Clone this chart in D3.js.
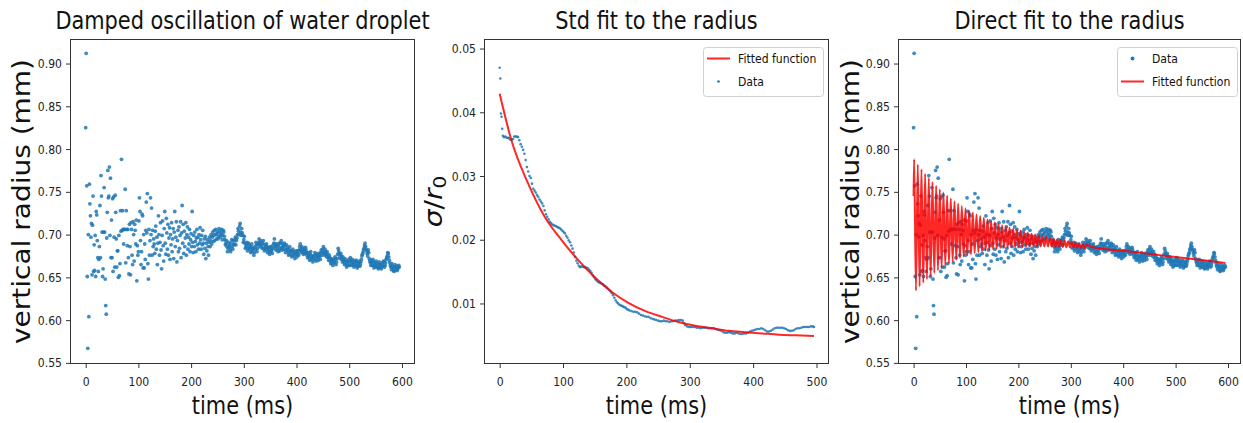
<!DOCTYPE html>
<html>
<head>
<meta charset="utf-8">
<script src="https://cdn.jsdelivr.net/npm/d3@7"></script>
<style>
body { margin: 0; background: #fff; }
text { font-family: "DejaVu Sans", sans-serif; }
</style>
</head>
<body>
<div id="chart"></div>
<script>
var width = 1243;
var height = 423;
var sx = 0.87; // the original figure is squeezed horizontally

// vertical radius of the droplet, [time ms, radius mm] (panels 1 and 3)
const radiusData = [
  [0,0.825],[1,0.912],[2,0.757],[3,0.651],[4,0.567],[5,0.700],[6,0.604],[7,0.759],[8,0.736],[9,0.722],
  [10,0.697],[11,0.713],[12,0.653],[13,0.711],[14,0.745],[15,0.657],[16,0.688],[17,0.658],[18,0.699],[19,0.651],
  [20,0.727],[21,0.723],[22,0.693],[23,0.673],[24,0.657],[25,0.671],[26,0.686],[27,0.734],[28,0.673],[29,0.769],
  [30,0.745],[31,0.703],[32,0.651],[33,0.660],[34,0.703],[35,0.755],[36,0.703],[37,0.648],[38,0.617],[39,0.607],
  [40,0.696],[41,0.726],[42,0.775],[43,0.743],[44,0.745],[45,0.779],[46,0.699],[47,0.766],[48,0.673],[49,0.717],
  [50,0.673],[51,0.742],[52,0.657],[53,0.744],[54,0.697],[55,0.662],[56,0.746],[57,0.726],[58,0.695],[59,0.662],
  [60,0.681],[61,0.681],[62,0.650],[63,0.699],[64,0.652],[65,0.666],[66,0.728],[67,0.704],[68,0.788],[69,0.705],
  [70,0.728],[71,0.706],[72,0.689],[73,0.706],[74,0.706],[75,0.753],[76,0.667],[77,0.728],[78,0.706],[79,0.687],
  [80,0.706],[81,0.673],[82,0.654],[83,0.712],[84,0.686],[85,0.653],[86,0.714],[87,0.706],[88,0.676],[89,0.665],
  [90,0.715],[91,0.700],[92,0.669],[93,0.712],[94,0.705],[95,0.689],[96,0.717],[97,0.646],[98,0.687],[99,0.676],
  [100,0.680],[101,0.716],[102,0.743],[103,0.727],[104,0.693],[105,0.665],[106,0.680],[107,0.724],[108,0.722],[109,0.661],
  [110,0.700],[111,0.661],[112,0.689],[113,0.671],[114,0.705],[115,0.738],[116,0.702],[117,0.748],[118,0.666],[119,0.648],
  [120,0.706],[121,0.676],[122,0.693],[123,0.743],[124,0.700],[125,0.731],[126,0.676],[127,0.705],[128,0.686],[129,0.695],
  [130,0.689],[131,0.678],[132,0.704],[133,0.710],[134,0.683],[135,0.697],[136,0.665],[137,0.690],[138,0.722],[139,0.700],
  [140,0.676],[141,0.691],[142,0.714],[143,0.682],[144,0.660],[145,0.699],[146,0.716],[147,0.687],[148,0.669],[149,0.707],
  [150,0.727],[151,0.690],[152,0.677],[153,0.719],[154,0.702],[155,0.683],[156,0.712],[157,0.676],[158,0.696],[159,0.708],
  [160,0.671],[161,0.700],[162,0.688],[163,0.714],[164,0.680],[165,0.695],[166,0.707],[167,0.672],[168,0.703],[169,0.727],
  [170,0.686],[171,0.697],[172,0.715],[173,0.668],[174,0.693],[175,0.705],[176,0.680],[177,0.709],[178,0.684],[179,0.699],
  [180,0.715],[181,0.673],[182,0.702],[183,0.734],[184,0.690],[185,0.712],[186,0.678],[187,0.704],[188,0.686],[189,0.696],
  [190,0.714],[191,0.676],[192,0.700],[193,0.709],[194,0.683],[195,0.697],[196,0.689],[197,0.706],[198,0.680],[199,0.694],
  [200,0.701],[201,0.686],[202,0.727],[203,0.691],[204,0.679],[205,0.699],[206,0.686],[207,0.703],[208,0.692],[209,0.680],
  [210,0.696],[211,0.706],[212,0.688],[213,0.697],[214,0.683],[215,0.700],[216,0.690],[217,0.708],[218,0.694],[219,0.683],
  [220,0.699],[221,0.688],[222,0.705],[223,0.690],[224,0.677],[225,0.695],[226,0.684],[227,0.698],[228,0.672],[229,0.690],
  [230,0.681],[231,0.694],[232,0.686],[233,0.676],[234,0.691],[235,0.697],[236,0.686],[237,0.693],[238,0.700],[239,0.689],
  [240,0.697],[241,0.703],[242,0.692],[243,0.699],[244,0.705],[245,0.693],[246,0.700],[247,0.706],[248,0.695],[249,0.701],
  [250,0.703],[252,0.698],[254,0.704],[256,0.700],[258,0.706],[260,0.699],[262,0.703],[264,0.694],[266,0.690],[268,0.686],
  [270,0.684],[272,0.688],[274,0.683],[276,0.690],[278,0.686],[280,0.693],[282,0.689],[284,0.697],[286,0.693],[288,0.700],
  [290,0.704],[292,0.710],[294,0.703],[296,0.707],[298,0.699],[300,0.694],[302,0.690],[304,0.686],[306,0.691],[308,0.684],
  [310,0.688],[312,0.682],[314,0.686],[316,0.680],[318,0.684],[320,0.679],[322,0.683],[324,0.688],[326,0.684],[328,0.691],
  [330,0.689],[332,0.693],[334,0.687],[336,0.690],[338,0.684],[340,0.688],[342,0.683],[344,0.686],[346,0.681],[348,0.685],
  [350,0.680],[352,0.683],[354,0.678],[356,0.684],[358,0.695],[360,0.686],[362,0.689],[364,0.683],[366,0.687],[368,0.681],
  [370,0.690],[372,0.685],[374,0.689],[376,0.683],[378,0.687],[380,0.682],[382,0.685],[384,0.679],[386,0.683],[388,0.677],
  [390,0.681],[392,0.676],[394,0.680],[396,0.675],[398,0.679],[400,0.677],[402,0.681],[404,0.676],[406,0.686],[408,0.682],
  [410,0.686],[412,0.680],[414,0.684],[416,0.678],[418,0.682],[420,0.676],[422,0.679],[424,0.673],[426,0.677],[428,0.671],
  [430,0.675],[432,0.671],[434,0.676],[436,0.672],[438,0.677],[440,0.673],[442,0.678],[444,0.674],[446,0.679],[448,0.676],
  [450,0.683],[452,0.679],[454,0.683],[456,0.677],[458,0.680],[460,0.673],[462,0.676],[464,0.669],[466,0.672],[468,0.667],
  [470,0.671],[472,0.667],[474,0.672],[476,0.668],[478,0.677],[480,0.681],[482,0.675],[484,0.678],[486,0.671],[488,0.674],
  [490,0.668],[492,0.672],[494,0.665],[496,0.669],[498,0.664],[500,0.668],[502,0.673],[504,0.667],[506,0.671],[508,0.665],
  [510,0.669],[512,0.664],[514,0.668],[516,0.663],[518,0.667],[520,0.663],[522,0.668],[524,0.675],[526,0.679],[528,0.684],
  [530,0.690],[532,0.683],[534,0.678],[536,0.682],[538,0.672],[540,0.667],[542,0.670],[544,0.664],[546,0.668],[548,0.663],
  [550,0.667],[552,0.662],[554,0.666],[556,0.661],[558,0.665],[560,0.662],[562,0.667],[564,0.663],[566,0.668],[568,0.664],
  [570,0.671],[572,0.675],[574,0.678],[576,0.670],[578,0.664],[580,0.659],[582,0.663],[584,0.658],[586,0.662],[588,0.659],
  [590,0.663],[592,0.660],[594,0.664],[595,0.662],
  [251,0.695],[253,0.707],[255,0.697],[257,0.702],[259,0.694],[261,0.705],[263,0.698],[265,0.688],[267,0.693],[269,0.680],
  [271,0.691],[273,0.686],[275,0.680],[277,0.694],[279,0.683],[281,0.688],[283,0.694],[285,0.688],[287,0.696],[289,0.707],
  [291,0.700],[293,0.713],[295,0.699],[297,0.702],[299,0.691],[301,0.698],[303,0.684],[305,0.688],[307,0.681],[309,0.690],
  [311,0.685],[313,0.679],[315,0.689],[317,0.683],[319,0.676],[321,0.686],[323,0.691],[325,0.680],[327,0.688],[329,0.695],
  [331,0.686],[333,0.690],[335,0.684],[337,0.693],[339,0.681],[341,0.685],[343,0.689],[345,0.679],[347,0.684],[349,0.677],
  [351,0.686],[353,0.681],[355,0.687],[357,0.690],[359,0.689],[361,0.682],[363,0.686],[365,0.680],[367,0.690],[369,0.684],
  [371,0.693],[373,0.682],[375,0.686],[377,0.690],[379,0.679],[381,0.688],[383,0.682],[385,0.676],[387,0.686],[389,0.680],
  [391,0.674],[393,0.683],[395,0.678],[397,0.672],[399,0.681],[401,0.674],[403,0.678],[405,0.682],[407,0.689],[409,0.679],
  [411,0.683],[413,0.677],[415,0.681],[417,0.685],[419,0.679],[421,0.673],[423,0.676],[425,0.670],[427,0.680],[429,0.674],
  [431,0.668],[433,0.674],[435,0.679],[437,0.669],[439,0.675],[441,0.670],[443,0.676],[445,0.671],[447,0.682],[449,0.679],
  [451,0.686],[453,0.676],[455,0.680],[457,0.674],[459,0.677],[461,0.670],[463,0.673],[465,0.666],[467,0.670],[469,0.664],
  [471,0.669],[473,0.674],[475,0.665],[477,0.672],[479,0.684],[481,0.678],[483,0.672],[485,0.675],[487,0.668],[489,0.671],
  [491,0.665],[493,0.669],[495,0.662],[497,0.667],[499,0.671],[501,0.664],[503,0.670],[505,0.664],[507,0.668],[509,0.662],
  [511,0.666],[513,0.670],[515,0.661],[517,0.665],[519,0.669],[521,0.665],[523,0.671],[525,0.677],[527,0.682],[529,0.687],
  [531,0.686],[533,0.681],[535,0.675],[537,0.679],[539,0.669],[541,0.664],[543,0.667],[545,0.671],[547,0.661],[549,0.665],
  [551,0.669],[553,0.663],[555,0.660],[557,0.668],[559,0.664],[561,0.660],[563,0.665],[565,0.669],[567,0.662],[569,0.667],
  [571,0.673],[573,0.679],[575,0.674],[577,0.667],[579,0.662],[581,0.666],[583,0.661],[585,0.657],[587,0.665],[589,0.661],
  [591,0.658],[593,0.662]
];

// std / r0 of the radius, [time ms, value]
const stdData = [
  [0,0.0470],[1,0.0453],[2,0.0398],[3,0.0393],[4,0.0374],[5,0.0363],[7,0.0361],[9,0.0362],[11,0.0360],[13,0.0360],
  [15,0.0359],[17,0.0357],[19,0.0357],[21,0.0358],[23,0.0362],[25,0.0362],[27,0.0362],[29,0.0361],[31,0.0356],[33,0.0350],
  [35,0.0346],[37,0.0341],[39,0.0335],[41,0.0325],[43,0.0314],[45,0.0307],[47,0.0300],[49,0.0297],[51,0.0288],[53,0.0280],
  [55,0.0277],[57,0.0274],[59,0.0270],[61,0.0267],[63,0.0263],[65,0.0260],[67,0.0257],[69,0.0253],[71,0.0246],[73,0.0240],
  [75,0.0236],[77,0.0232],[79,0.0228],[81,0.0226],[83,0.0224],[85,0.0223],[87,0.0222],[89,0.0221],[91,0.0220],[93,0.0219],
  [95,0.0218],[97,0.0216],[99,0.0214],[101,0.0212],[103,0.0210],[105,0.0206],[107,0.0203],[109,0.0199],[111,0.0196],[113,0.0191],
  [115,0.0186],[117,0.0180],[119,0.0173],[121,0.0167],[123,0.0163],[125,0.0159],[127,0.0157],[129,0.0158],[131,0.0158],[133,0.0157],
  [135,0.0157],[137,0.0156],[139,0.0155],[141,0.0153],[143,0.0151],[145,0.0148],[147,0.0144],[149,0.0141],[151,0.0138],[153,0.0136],
  [155,0.0134],[157,0.0133],[159,0.0132],[161,0.0131],[163,0.0130],[165,0.0128],[167,0.0127],[169,0.0125],[171,0.0123],[173,0.0121],
  [175,0.0119],[177,0.0116],[179,0.0113],[181,0.0109],[183,0.0105],[185,0.0102],[187,0.0100],[189,0.0098],[191,0.0097],[193,0.0096],
  [195,0.0095],[197,0.0094],[199,0.0093],[201,0.0091],[203,0.0090],[205,0.0089],[208,0.0088],[211,0.0087],[214,0.0087],[217,0.0086],
  [220,0.0084],[223,0.0082],[226,0.0081],[229,0.0080],[232,0.0079],[235,0.0079],[238,0.0077],[241,0.0076],[244,0.0075],[247,0.0074],
  [250,0.0073],[253,0.0072],[256,0.0072],[259,0.0073],[262,0.0072],[265,0.0072],[268,0.0071],[271,0.0072],[274,0.0072],[277,0.0073],
  [280,0.0073],[283,0.0074],[286,0.0074],[289,0.0073],[291,0.0069],[293,0.0066],[296,0.0064],[299,0.0063],[302,0.0063],[305,0.0063],
  [308,0.0063],[311,0.0062],[314,0.0062],[317,0.0061],[320,0.0062],[323,0.0062],[326,0.0062],[329,0.0061],[332,0.0061],[335,0.0061],
  [338,0.0061],[341,0.0060],[344,0.0059],[347,0.0058],[350,0.0057],[353,0.0055],[356,0.0054],[359,0.0054],[362,0.0055],[365,0.0054],
  [368,0.0053],[371,0.0053],[374,0.0054],[377,0.0053],[380,0.0052],[383,0.0052],[386,0.0053],[389,0.0053],[392,0.0054],[395,0.0056],
  [398,0.0057],[401,0.0058],[404,0.0059],[407,0.0060],[410,0.0060],[413,0.0061],[416,0.0060],[419,0.0058],[422,0.0056],[425,0.0056],
  [428,0.0057],[431,0.0059],[434,0.0061],[437,0.0062],[440,0.0062],[443,0.0062],[446,0.0062],[449,0.0061],[452,0.0060],[455,0.0058],
  [458,0.0057],[461,0.0057],[464,0.0058],[467,0.0060],[470,0.0061],[473,0.0061],[476,0.0062],[479,0.0063],[482,0.0063],[485,0.0063],
  [488,0.0063],[491,0.0064],[494,0.0064],[496,0.0063]
];

// fitted curve of the std
const stdFit = [
  [0,0.0429],[18.5,0.0356],[45,0.0288],[71,0.0236],[98,0.0199],[124,0.0168],[150,0.0141],[177,0.0118],
  [203,0.0101],[230,0.0088],[256,0.0079],[282,0.0071],[309,0.0065],[335,0.0061],[362,0.0057],[388,0.0055],
  [414,0.0053],[441,0.0051],[467,0.0050],[496,0.0049]
];

// fitted damped oscillation, peaks and troughs
const directFit = [
  [0,0.745],[1,0.7881],[4.5,0.6344],[8,0.7820],[11.5,0.6392],[15,0.7764],[18.5,0.6437],[22,0.7711],[25.5,0.6478],
  [29,0.7661],[32.5,0.6515],[36,0.7615],[39.5,0.6550],[43,0.7571],[46.5,0.6582],[50,0.7531],[53.5,0.6611],
  [57,0.7493],[60.5,0.6638],[64,0.7457],[67.5,0.6663],[71,0.7423],[74.5,0.6685],[78,0.7391],[81.5,0.6706],
  [85,0.7361],[88.5,0.6725],[92,0.7333],[95.5,0.6742],[99,0.7307],[102.5,0.6757],[106,0.7282],[109.5,0.6771],
  [113,0.7258],[116.5,0.6784],[120,0.7236],[123.5,0.6795],[127,0.7216],[130.5,0.6805],[134,0.7196],[137.5,0.6814],
  [141,0.7177],[144.5,0.6822],[148,0.7159],[151.5,0.6830],[155,0.7143],[158.5,0.6836],[162,0.7127],[165.5,0.6842],
  [169,0.7110],[172.5,0.6846],[176,0.7096],[179.5,0.6851],[183,0.7082],[186.5,0.6854],[190,0.7069],[193.5,0.6857],
  [197,0.7056],[200.5,0.6859],[204,0.7044],[207.5,0.6861],[211,0.7033],[214.5,0.6861],[218,0.7022],[221.5,0.6862],
  [225,0.7011],[228.5,0.6863],[232,0.7001],[235.5,0.6863],[239,0.6991],[242.5,0.6862],[246,0.6981],[249.5,0.6862],
  [253,0.6972],[256.5,0.6861],[260,0.6963],[263.5,0.6860],[267,0.6954],[270.5,0.6858],[274,0.6945],[277.5,0.6856],
  [281,0.6937],[284.5,0.6854],[288,0.6929],[291.5,0.6852],[295,0.6921],[298.5,0.6850],[302,0.6913],[305.5,0.6848],
  [309,0.6905],[312.5,0.6846],[316,0.6897],[319.5,0.6844],[323,0.6889],[326.5,0.6842],[330,0.6881],[340,0.6854],
  [400,0.6810],[500,0.6738],[595,0.6669]
];

const radiusTicks = [0.55, 0.60, 0.65, 0.70, 0.75, 0.80, 0.85, 0.90];
const stdTicks = [0.01, 0.02, 0.03, 0.04, 0.05];
const timeTicks600 = [0, 100, 200, 300, 400, 500, 600];
const timeTicks500 = [0, 100, 200, 300, 400, 500];

const blue = "#1f77b4";
const axTop = 39, axBottom = 364;

let svg = d3.select("#chart")
  .append("svg")
  .attr("width", width)
  .attr("height", height);

function label(g, x, y, str, size, anchor) {
  return g.append("text")
    .attr("transform", `translate(${x},${y}) scale(${sx},1)`)
    .attr("text-anchor", anchor || "middle")
    .attr("font-size", size)
    .attr("fill", "#111")
    .text(str);
}

function panel(o) {
  const g = svg.append("g");
  const x = d3.scaleLinear().domain(o.xDomain).range([o.left, o.right]);
  const y = d3.scaleLinear().domain(o.yDomain).range([axBottom, axTop]);

  g.append("g")
    .attr("transform", `translate(0,${axBottom})`)
    .call(d3.axisBottom(x).tickValues(o.xTicks).tickSize(4).tickPadding(9).tickFormat(d3.format("d")))
    .call(a => a.select(".domain").remove())
    .call(a => a.selectAll("line").attr("stroke", "#333"))
    .call(a => a.selectAll("text").attr("transform", `scale(${sx},1)`)
      .attr("font-size", 12.5).attr("font-family", "DejaVu Sans").attr("fill", "#222"));

  g.append("g")
    .attr("transform", `translate(${o.left},0)`)
    .call(d3.axisLeft(y).tickValues(o.yTicks).tickSize(4).tickPadding(5.2).tickFormat(d3.format(".2f")))
    .call(a => a.select(".domain").remove())
    .call(a => a.selectAll("line").attr("stroke", "#333"))
    .call(a => a.selectAll("text").attr("transform", `scale(${sx},1)`)
      .attr("font-size", 12.5).attr("font-family", "DejaVu Sans").attr("fill", "#222"));

  label(g, (o.left + o.right) / 2, 29, o.title, 24);
  label(g, (o.left + o.right) / 2, 414, "time (ms)", 24);
  return { g, x, y, o };
}

function frame(p) {
  p.g.append("rect")
    .attr("x", p.o.left + 0.5).attr("y", axTop + 0.5)
    .attr("width", p.o.right - p.o.left - 1).attr("height", axBottom - axTop - 1)
    .attr("fill", "none").attr("stroke", "#333").attr("stroke-width", 1);
}

function yLabel(g, x, y, str) {
  return g.append("text")
    .attr("transform", `translate(${x},${y}) scale(${sx},1) rotate(-90)`)
    .attr("text-anchor", "middle")
    .attr("font-size", 28)
    .attr("fill", "#111")
    .text(str);
}

function dots(p, data, r) {
  p.g.append("g").selectAll("circle")
    .data(data)
    .enter().append("circle")
    .attr("cx", d => p.x(d[0]))
    .attr("cy", d => p.y(d[1]))
    .attr("r", r)
    .attr("fill", blue)
    .attr("fill-opacity", 0.85);
}

function fitLine(p, data) {
  const line = d3.line()
    .x(d => p.x(d[0]))
    .y(d => p.y(d[1]))
    .curve(d3.curveMonotoneX);
  p.g.append("path")
    .datum(data)
    .attr("d", line)
    .attr("fill", "none")
    .attr("stroke", "#ff0000")
    .attr("stroke-opacity", 0.85)
    .attr("stroke-width", 2);
}

function legend(g, x0, y0, items) {
  g.append("rect")
    .attr("x", x0 + 0.5).attr("y", y0 + 0.5)
    .attr("width", 120).attr("height", 49).attr("rx", 3)
    .attr("fill", "#fff").attr("fill-opacity", 0.8)
    .attr("stroke", "#d0d0d0");
  items.forEach((it, i) => {
    const cy = y0 + 11.5 + i * 23;
    if (it.type === "line") {
      g.append("line")
        .attr("x1", x0 + 4).attr("x2", x0 + 27)
        .attr("y1", cy).attr("y2", cy)
        .attr("stroke", "#ff0000").attr("stroke-opacity", 0.85).attr("stroke-width", 2);
    } else {
      g.append("circle")
        .attr("cx", x0 + 15.5).attr("cy", cy)
        .attr("r", it.r).attr("fill", blue);
    }
    label(g, x0 + 35, cy + 4.5, it.text, 12.5, "start");
  });
}

// panel 1
const p1 = panel({ left: 70, right: 415, xDomain: [-29.75, 624.75], yDomain: [0.5487, 0.9287],
  xTicks: timeTicks600, yTicks: radiusTicks, title: "Damped oscillation of water droplet" });
dots(p1, radiusData, 1.9);
frame(p1);
yLabel(p1.g, 29.5, 201.5, "vertical radius (mm)");

// panel 2
const p2 = panel({ left: 484, right: 829, xDomain: [-24.75, 519.75], yDomain: [0.0005, 0.0515],
  xTicks: timeTicks500, yTicks: stdTicks, title: "Std fit to the radius" });
dots(p2, stdData, 1.3);
fitLine(p2, stdFit);
frame(p2);
const sig = p2.g.append("text")
  .attr("transform", `translate(442,201.5) scale(${sx},1) rotate(-90)`)
  .attr("text-anchor", "middle")
  .attr("font-size", 28)
  .attr("fill", "#111");
sig.append("tspan").attr("font-style", "italic").text("σ");
sig.append("tspan").text("/");
sig.append("tspan").attr("font-style", "italic").text("r");
sig.append("tspan").attr("font-size", 20).attr("dy", 5).text("0");
legend(p2.g, 703, 47, [{ type: "line", text: "Fitted function" }, { type: "dot", r: 1.3, text: "Data" }]);

// panel 3
const p3 = panel({ left: 898, right: 1241, xDomain: [-29.75, 624.75], yDomain: [0.5487, 0.9287],
  xTicks: timeTicks600, yTicks: radiusTicks, title: "Direct fit to the radius" });
dots(p3, radiusData, 1.9);
fitLine(p3, directFit);
frame(p3);
yLabel(p3.g, 858.5, 201.5, "vertical radius (mm)");
legend(p3.g, 1117, 47, [{ type: "dot", r: 1.9, text: "Data" }, { type: "line", text: "Fitted function" }]);
</script>
</body>
</html>
